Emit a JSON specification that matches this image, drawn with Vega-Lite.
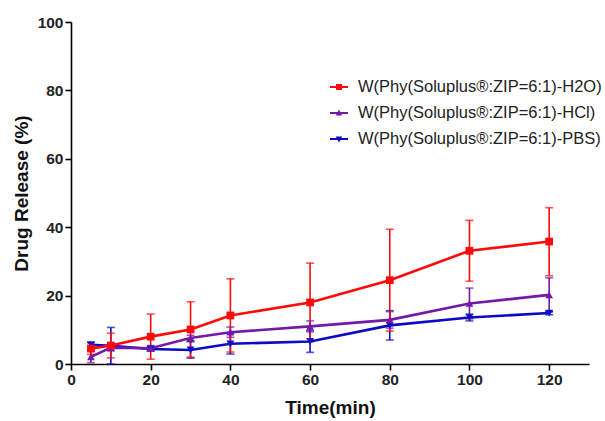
{
  "$schema": "https://vega.github.io/schema/vega-lite/v6.json",
  "width": 518,
  "height": 342,
  "autosize": "none",
  "padding": {"left": 71, "top": 22, "right": 16, "bottom": 57},
  "background": "white",
  "config": {
    "view": {"stroke": null},
    "axis": {
      "grid": false,
      "domainColor": "#000",
      "domainWidth": 1.6,
      "tickColor": "#000",
      "tickWidth": 1.6,
      "labelFont": "Liberation Sans",
      "labelFontWeight": "bold",
      "labelFontSize": 15.5,
      "labelColor": "#222",
      "titleFont": "Liberation Sans",
      "titleFontWeight": "bold",
      "titleFontSize": 19,
      "titleColor": "#111"
    }
  },
  "datasets": {
    "release": [
      {"series": "W(Phy(Soluplus®:ZIP=6:1)-PBS)", "time": 5, "mean": 5.6, "lo": 4.8, "hi": 6.4},
      {"series": "W(Phy(Soluplus®:ZIP=6:1)-PBS)", "time": 10, "mean": 5.3, "lo": 0.0, "hi": 10.7},
      {"series": "W(Phy(Soluplus®:ZIP=6:1)-PBS)", "time": 20, "mean": 4.4, "lo": 3.8, "hi": 5.0},
      {"series": "W(Phy(Soluplus®:ZIP=6:1)-PBS)", "time": 30, "mean": 4.1, "lo": 1.7, "hi": 6.5},
      {"series": "W(Phy(Soluplus®:ZIP=6:1)-PBS)", "time": 40, "mean": 5.9, "lo": 2.9, "hi": 8.9},
      {"series": "W(Phy(Soluplus®:ZIP=6:1)-PBS)", "time": 60, "mean": 6.6, "lo": 3.4, "hi": 9.8},
      {"series": "W(Phy(Soluplus®:ZIP=6:1)-PBS)", "time": 80, "mean": 11.3, "lo": 7.0, "hi": 15.6},
      {"series": "W(Phy(Soluplus®:ZIP=6:1)-PBS)", "time": 100, "mean": 13.6, "lo": 12.6, "hi": 14.6},
      {"series": "W(Phy(Soluplus®:ZIP=6:1)-PBS)", "time": 120, "mean": 14.9, "lo": 14.4, "hi": 15.4},
      {"series": "W(Phy(Soluplus®:ZIP=6:1)-HCl)", "time": 5, "mean": 2.1, "lo": 0.4, "hi": 3.8},
      {"series": "W(Phy(Soluplus®:ZIP=6:1)-HCl)", "time": 10, "mean": 4.8, "lo": 3.8, "hi": 5.8},
      {"series": "W(Phy(Soluplus®:ZIP=6:1)-HCl)", "time": 20, "mean": 4.6, "lo": 3.8, "hi": 5.4},
      {"series": "W(Phy(Soluplus®:ZIP=6:1)-HCl)", "time": 30, "mean": 7.6, "lo": 6.8, "hi": 8.4},
      {"series": "W(Phy(Soluplus®:ZIP=6:1)-HCl)", "time": 40, "mean": 9.3, "lo": 7.8, "hi": 10.8},
      {"series": "W(Phy(Soluplus®:ZIP=6:1)-HCl)", "time": 60, "mean": 11.0, "lo": 9.4, "hi": 12.6},
      {"series": "W(Phy(Soluplus®:ZIP=6:1)-HCl)", "time": 80, "mean": 12.9, "lo": 10.5, "hi": 15.3},
      {"series": "W(Phy(Soluplus®:ZIP=6:1)-HCl)", "time": 100, "mean": 17.7, "lo": 13.2, "hi": 22.2},
      {"series": "W(Phy(Soluplus®:ZIP=6:1)-HCl)", "time": 120, "mean": 20.2, "lo": 15.2, "hi": 25.2},
      {"series": "W(Phy(Soluplus®:ZIP=6:1)-H2O)", "time": 5, "mean": 4.5, "lo": 2.8, "hi": 6.2},
      {"series": "W(Phy(Soluplus®:ZIP=6:1)-H2O)", "time": 10, "mean": 5.4, "lo": 1.8, "hi": 9.0},
      {"series": "W(Phy(Soluplus®:ZIP=6:1)-H2O)", "time": 20, "mean": 8.0, "lo": 1.4, "hi": 14.6},
      {"series": "W(Phy(Soluplus®:ZIP=6:1)-H2O)", "time": 30, "mean": 10.1, "lo": 2.0, "hi": 18.2},
      {"series": "W(Phy(Soluplus®:ZIP=6:1)-H2O)", "time": 40, "mean": 14.2, "lo": 3.5, "hi": 24.9},
      {"series": "W(Phy(Soluplus®:ZIP=6:1)-H2O)", "time": 60, "mean": 18.0, "lo": 6.5, "hi": 29.5},
      {"series": "W(Phy(Soluplus®:ZIP=6:1)-H2O)", "time": 80, "mean": 24.5, "lo": 9.6, "hi": 39.4},
      {"series": "W(Phy(Soluplus®:ZIP=6:1)-H2O)", "time": 100, "mean": 33.1, "lo": 24.2, "hi": 42.0},
      {"series": "W(Phy(Soluplus®:ZIP=6:1)-H2O)", "time": 120, "mean": 35.8, "lo": 25.8, "hi": 45.7}
    ],
    "keys": [
      {"series": "W(Phy(Soluplus®:ZIP=6:1)-H2O)"},
      {"series": "W(Phy(Soluplus®:ZIP=6:1)-HCl)"},
      {"series": "W(Phy(Soluplus®:ZIP=6:1)-PBS)"}
    ]
  },
  "resolve": {"scale": {"color": "independent", "shape": "independent"}},
  "layer": [
    {
      "data": {"name": "release"},
      "encoding": {
        "x": {
          "field": "time", "type": "quantitative",
          "scale": {"domain": [0, 130], "nice": false, "zero": false},
          "axis": {
            "title": "Time(min)",
            "values": [0, 10, 20, 30, 40, 50, 60, 70, 80, 90, 100, 110, 120, 130],
            "labelExpr": "datum.value % 20 === 0 ? datum.label : ''",
            "tickSize": 6,
            "labelPadding": 2,
            "titlePadding": 11,
            "labelFlush": false,
            "labelOverlap": false,
            "encode": {"ticks": {"update": {"y2": {"signal": "datum.value % 20 === 0 ? 6 : 3"}}}}
          }
        },
        "color": {
          "field": "series", "type": "nominal", "legend": null,
          "scale": {
            "domain": ["W(Phy(Soluplus®:ZIP=6:1)-H2O)", "W(Phy(Soluplus®:ZIP=6:1)-HCl)", "W(Phy(Soluplus®:ZIP=6:1)-PBS)"],
            "range": ["#ff0a0a", "#7418a8", "#0b0bc4"]
          }
        }
      },
      "layer": [
        {
          "mark": {"type": "rule", "strokeWidth": 1.6},
          "encoding": {
            "y": {
              "field": "lo", "type": "quantitative",
              "scale": {"domain": [0, 100], "nice": false},
              "axis": {
                "title": "Drug Release (%)",
                "values": [0, 10, 20, 30, 40, 50, 60, 70, 80, 90, 100],
                "labelExpr": "datum.value % 20 === 0 ? datum.label : ''",
                "tickSize": 6,
                "labelPadding": 2,
                "titlePadding": 6,
                "labelFlush": false,
                "labelOverlap": false,
                "encode": {"ticks": {"update": {"x2": {"signal": "datum.value % 20 === 0 ? -6 : -3"}}}}
              }
            },
            "y2": {"field": "hi"}
          }
        },
        {
          "mark": {"type": "tick", "orient": "horizontal", "size": 8, "thickness": 1.6},
          "encoding": {"y": {"field": "lo", "type": "quantitative"}}
        },
        {
          "mark": {"type": "tick", "orient": "horizontal", "size": 8, "thickness": 1.6},
          "encoding": {"y": {"field": "hi", "type": "quantitative"}}
        },
        {
          "mark": {"type": "line", "strokeWidth": 2.6},
          "encoding": {"y": {"field": "mean", "type": "quantitative"}}
        },
        {
          "mark": {"type": "point", "filled": true, "opacity": 1},
          "encoding": {
            "y": {"field": "mean", "type": "quantitative"},
            "shape": {
              "field": "series", "type": "nominal", "legend": null,
              "scale": {
                "domain": ["W(Phy(Soluplus®:ZIP=6:1)-H2O)", "W(Phy(Soluplus®:ZIP=6:1)-HCl)", "W(Phy(Soluplus®:ZIP=6:1)-PBS)"],
                "range": ["square", "triangle-up", "triangle-down"]
              }
            },
            "size": {"value": 60}
          }
        }
      ]
    },
    {
      "data": {"name": "keys"},
      "mark": {"type": "point", "filled": true, "opacity": 0, "size": 324},
      "encoding": {
        "x": {"datum": 0, "type": "quantitative"},
        "y": {"datum": 0, "type": "quantitative"},
        "color": {
          "field": "series", "type": "nominal",
          "scale": {
            "domain": ["W(Phy(Soluplus®:ZIP=6:1)-H2O)", "W(Phy(Soluplus®:ZIP=6:1)-HCl)", "W(Phy(Soluplus®:ZIP=6:1)-PBS)"],
            "range": ["#ff0a0a", "#7418a8", "#0b0bc4"]
          },
          "legend": {
            "title": null, "orient": "none", "legendX": 259, "legendY": 56,
            "padding": 0, "rowPadding": 8, "labelOffset": 10,
            "labelFont": "Liberation Sans", "labelFontSize": 16.5, "labelColor": "#222", "labelLimit": 400,
            "symbolSize": 324, "symbolStrokeWidth": 0,
            "encode": {"symbols": {"update": {"opacity": {"value": 1}, "fillOpacity": {"value": 1}}}}
          }
        },
        "shape": {
          "field": "series", "type": "nominal",
          "scale": {
            "domain": ["W(Phy(Soluplus®:ZIP=6:1)-H2O)", "W(Phy(Soluplus®:ZIP=6:1)-HCl)", "W(Phy(Soluplus®:ZIP=6:1)-PBS)"],
            "range": [
              "M-1,-0.1H1V0.1H-1Z M-0.33,-0.33H0.33V0.33H-0.33Z",
              "M-1,-0.1H1V0.1H-1Z M0,-0.38L0.36,0.28H-0.36Z",
              "M-1,-0.1H1V0.1H-1Z M0,0.38L-0.36,-0.28H0.36Z"
            ]
          },
          "legend": {
            "title": null, "orient": "none", "legendX": 259, "legendY": 56,
            "padding": 0, "rowPadding": 8, "labelOffset": 10,
            "labelFont": "Liberation Sans", "labelFontSize": 16.5, "labelColor": "#222", "labelLimit": 400,
            "symbolSize": 324, "symbolStrokeWidth": 0,
            "encode": {"symbols": {"update": {"opacity": {"value": 1}, "fillOpacity": {"value": 1}}}}
          }
        }
      }
    }
  ]
}
